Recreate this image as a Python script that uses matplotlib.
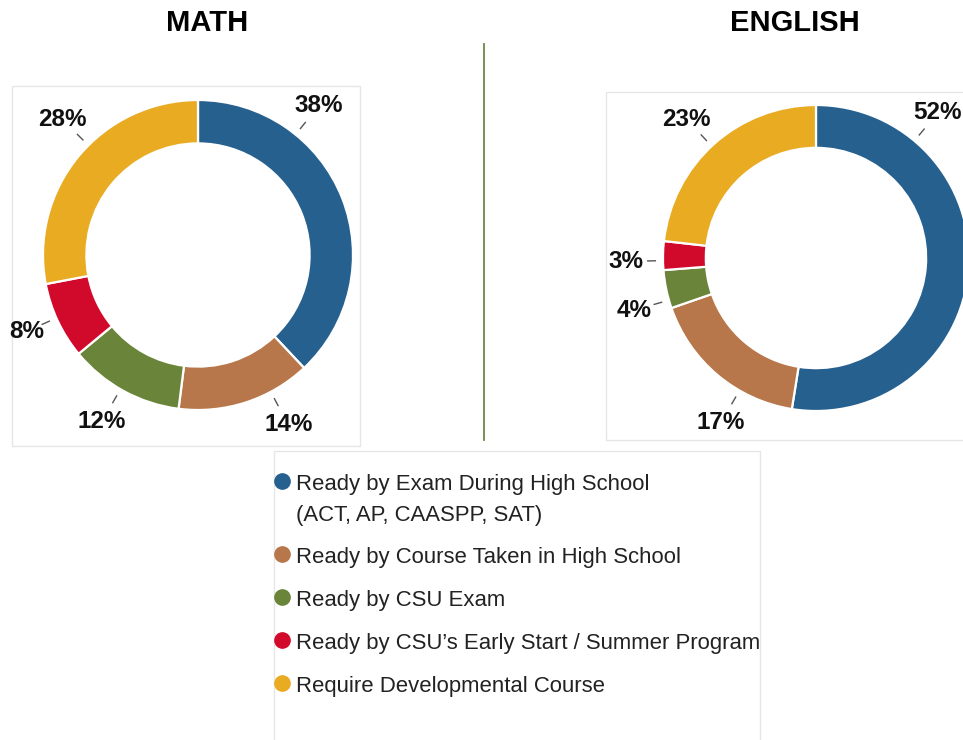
import matplotlib
matplotlib.use("Agg")
import matplotlib.pyplot as plt
from matplotlib.patches import Rectangle
from matplotlib.lines import Line2D
import numpy as np

# ---- data ----
categories = [
    "Ready by Exam During High School\n(ACT, AP, CAASPP, SAT)",
    "Ready by Course Taken in High School",
    "Ready by CSU Exam",
    "Ready by CSU\u2019s Early Start / Summer Program",
    "Require Developmental Course",
]
math_values = [38, 14, 12, 8, 28]
english_values = [52, 17, 4, 3, 23]
chart_titles = ["MATH", "ENGLISH"]

colors = ["#26608f", "#b8774a", "#6a843a", "#d10a2b", "#e9ab22"]

# label placement (layout only): angle in degrees, radius in donut radii
math_label_angles = [51, -62, 240, 204, 135]
math_label_radii = [1.24, 1.24, 1.24, 1.21, 1.24]
english_label_angles = [50, 240, 196, 181, 133]
english_label_radii = [1.24, 1.24, 1.24, 1.24, 1.24]

W, H = 963, 740
fig = plt.figure(figsize=(W / 100, H / 100), dpi=100)
fig.patch.set_facecolor("white")

FONT = ["Liberation Sans", "DejaVu Sans"]
LIM = 1.4


def px_axes(cx, cy, R):
    half = LIM * R
    left = (cx - half) / W
    bottom = 1 - (cy + half) / H
    ax = fig.add_axes([left, bottom, 2 * half / W, 2 * half / H])
    ax.patch.set_alpha(0)
    return ax


def donut(ax, values, label_angles, label_radii):
    ax.pie(values, colors=colors, startangle=90, counterclock=False,
           radius=1.0,
           wedgeprops=dict(width=0.28, edgecolor="white", linewidth=1.6))
    ax.set_xlim(-LIM, LIM)
    ax.set_ylim(-LIM, LIM)
    ax.set_aspect("equal")
    ax.axis("off")
    for v, a, rl in zip(values, label_angles, label_radii):
        t = np.deg2rad(a)
        r0, r1 = 1.05, 1.10
        ax.plot([r0 * np.cos(t), r1 * np.cos(t)], [r0 * np.sin(t), r1 * np.sin(t)],
                color="#555555", lw=1.0)
        ax.text(rl * np.cos(t), rl * np.sin(t), f"{v}%", ha="center", va="center",
                fontsize=17.5, fontweight="bold", family=FONT, color="#111111",
                clip_on=False)


# background boxes (drawn beneath everything)
for (x0, y0, x1, y1) in [(12, 86, 360, 446), (606, 92, 975, 440), (274, 451, 760, 745)]:
    fig.patches.append(Rectangle((x0 / W, 1 - y1 / H), (x1 - x0) / W, (y1 - y0) / H,
                                 transform=fig.transFigure, fill=False,
                                 edgecolor="#e6e6e6", lw=1.0, zorder=-10))

ax1 = px_axes(198, 255, 155)
donut(ax1, math_values, math_label_angles, math_label_radii)
ax2 = px_axes(816, 258, 153)
donut(ax2, english_values, english_label_angles, english_label_radii)

# titles
fig.text(207 / W, 1 - 23 / H, chart_titles[0], ha="center", va="center",
         fontsize=21, fontweight="bold", family=FONT)
fig.text(795 / W, 1 - 23 / H, chart_titles[1], ha="center", va="center",
         fontsize=21, fontweight="bold", family=FONT)

# vertical divider
fig.add_artist(Line2D([484 / W, 484 / W], [1 - 44 / H, 1 - 440 / H],
                      transform=fig.transFigure, color="#6a8a40", lw=1.3))

# legend
rows_y = [481, 554, 597, 640, 683]
line_gap = 31
for cat, col, y in zip(categories, colors, rows_y):
    fig.add_artist(Line2D([282 / W], [1 - y / H], marker="o", markersize=11,
                          color=col, transform=fig.transFigure, linestyle="none"))
    for i, line in enumerate(cat.split("\n")):
        fig.text(296 / W, 1 - (y + 1 + i * line_gap) / H, line, ha="left",
                 va="center_baseline", fontsize=15.9, family=FONT, color="#222222")

fig.savefig("out.png", dpi=100, facecolor="white")
